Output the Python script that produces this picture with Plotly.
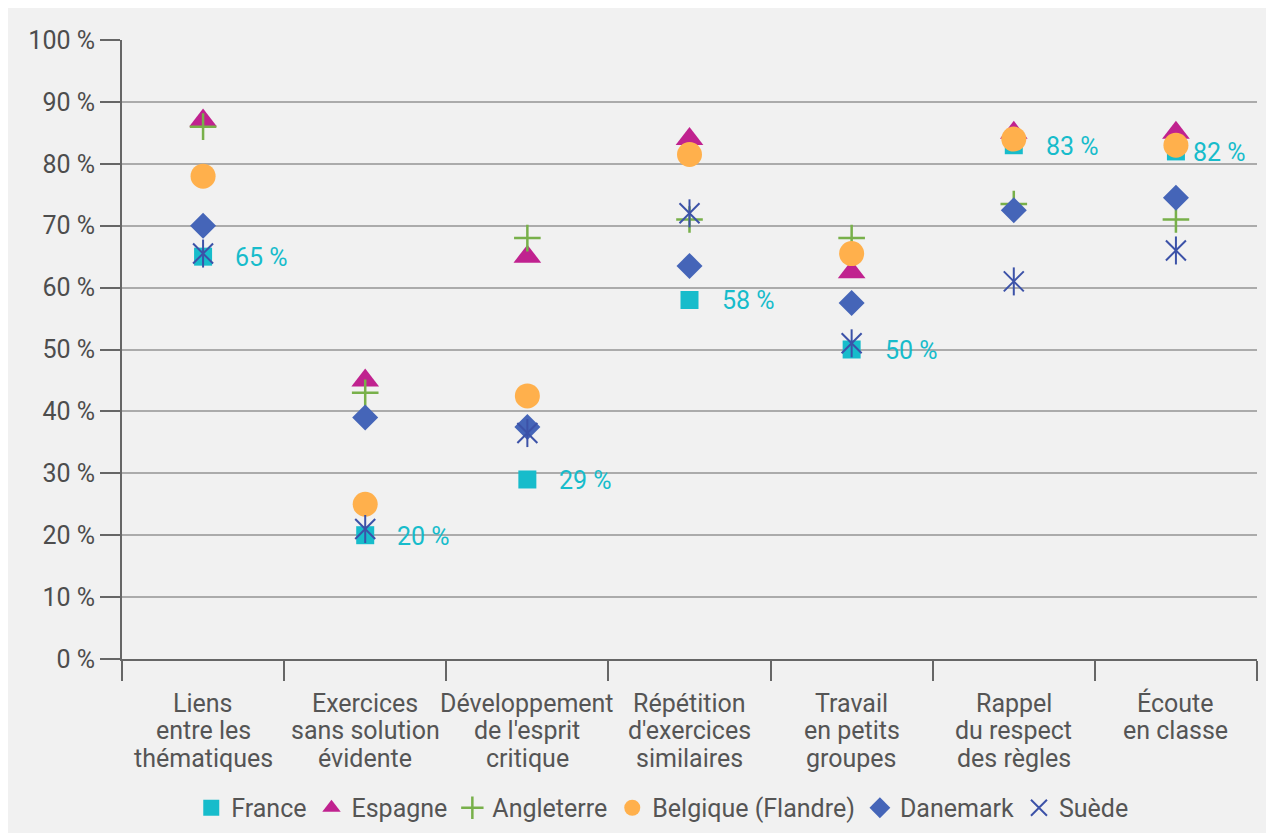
import plotly.graph_objects as go

categories = [
    "Liens<br>entre les<br>thématiques",
    "Exercices<br>sans solution<br>évidente",
    "Développement<br>de l'esprit<br>critique",
    "Répétition<br>d'exercices<br>similaires",
    "Travail<br>en petits<br>groupes",
    "Rappel<br>du respect<br>des règles",
    "Écoute<br>en classe",
]

france = [65, 20, 29, 58, 50, 83, 82]
espagne = [87, 45, 65, 84, 62.5, 85, 85]
angleterre = [86, 43, 68, 71, 68, 73.5, 71]
belgique = [78, 25, 42.5, 81.5, 65.5, 84, 83]
danemark = [70, 39, 37.5, 63.5, 57.5, 72.5, 74.5]
suede = [65.5, 21, 36.5, 72, 51, 61, 66]

y_ticks = [0, 10, 20, 30, 40, 50, 60, 70, 80, 90, 100]
label_xshift = [30, 30, 30, 30, 31, 30, 15]

FONT = "Roboto"
C_FR = "#17bccb"
C_ES = "#c0228f"
C_EN = "#78b04a"
C_BE = "#ffb04c"
C_DK = "#4565b8"
C_SE = "#3c52a8"
TXT = "#555555"
AX = "#666666"

fig = go.Figure()

fig.add_trace(go.Scatter(x=categories, y=france, mode="markers", name="France",
                         marker=dict(symbol="square", size=18, color=C_FR)))
fig.add_trace(go.Scatter(x=categories, y=espagne, mode="markers", name="Espagne",
                         marker=dict(symbol="triangle-up", size=24, color=C_ES)))
fig.add_trace(go.Scatter(x=categories, y=angleterre, mode="markers", name="Angleterre",
                         marker=dict(symbol="cross-thin-open", size=19, color=C_EN,
                                     line=dict(width=2.5, color=C_EN))))
fig.add_trace(go.Scatter(x=categories, y=belgique, mode="markers", name="Belgique (Flandre)",
                         marker=dict(symbol="circle", size=25, color=C_BE)))
fig.add_trace(go.Scatter(x=categories, y=danemark, mode="markers", name="Danemark",
                         marker=dict(symbol="diamond", size=20, color=C_DK)))
fig.add_trace(go.Scatter(x=categories, y=suede, mode="markers", name="Suède",
                         marker=dict(symbol="x-thin-open", size=20, color=C_SE,
                                     line=dict(width=2, color=C_SE))))
fig.add_trace(go.Scatter(x=categories, y=suede, mode="markers", name="Suède",
                         showlegend=False,
                         marker=dict(symbol="line-ns-open", size=20, color=C_SE,
                                     line=dict(width=2, color=C_SE))))

# France value labels
for cat, v, dx in zip(categories, france, label_xshift):
    fig.add_annotation(x=cat, y=v, text=f"{v} %", showarrow=False,
                       xanchor="left", yanchor="middle", xshift=dx, yshift=-1,
                       font=dict(family=FONT, size=25, color=C_FR))

# Category labels (tight line spacing)
for cat in categories:
    for i, line in enumerate(cat.split("<br>")):
        fig.add_annotation(x=cat, xref="x", y=0, yref="paper", text=line,
                           showarrow=False, xanchor="center", yanchor="middle",
                           yshift=-(44 + 27.5 * i),
                           font=dict(family=FONT, size=25, color=TXT))

W, H = 1266, 825
L, R, T, B = 114, 17, 32, 174

fig.update_layout(
    width=W, height=H,
    margin=dict(l=L, r=R, t=T, b=B, autoexpand=False),
    paper_bgcolor="#f1f1f1",
    plot_bgcolor="#f1f1f1",
    font=dict(family=FONT, color=TXT),
    showlegend=True,
    legend=dict(orientation="h", x=0.476, xanchor="center", y=-0.2407, yanchor="middle",
                font=dict(family=FONT, size=25, color=TXT),
                bgcolor="rgba(0,0,0,0)", itemwidth=30, tracegroupgap=0),
)

fig.update_xaxes(
    type="category",
    range=[-0.5, len(categories) - 0.5],
    showgrid=False,
    showline=True, linecolor=AX, linewidth=2,
    ticks="outside", tickson="boundaries", ticklen=20, tickwidth=2, tickcolor=AX,
    showticklabels=False,
)

fig.update_yaxes(
    range=[0, 100],
    tickvals=y_ticks, ticktext=[f"{t} %" for t in y_ticks],
    showgrid=True, gridcolor="#ababab", gridwidth=1.6,
    zeroline=False,
    showline=True, linecolor=AX, linewidth=2,
    ticks="outside", ticklen=20, tickwidth=2, tickcolor=AX,
    tickfont=dict(family=FONT, size=25, color="#4d4d4d"),
    ticklabelstandoff=0,
)

fig.write_html("out.html")
